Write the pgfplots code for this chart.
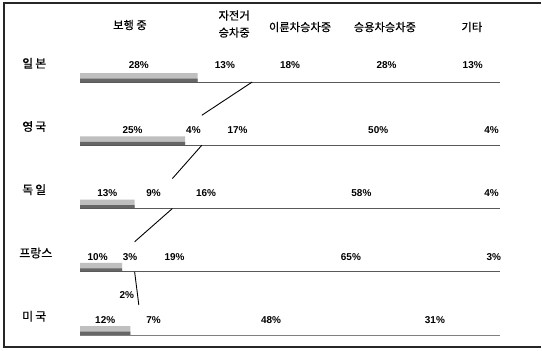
\documentclass[border=0pt]{standalone}
\usepackage{pgfplots}
\pgfplotsset{compat=1.18}
\usepackage{fontspec}
\setmainfont{Liberation Sans}
\newfontfamily\kr[FakeBold=0.6]{Noto Sans CJK KR}

\pgfplotsset{
  common/.style={
    width=537bp, height=344bp, scale only axis,
    xmin=-18.1, xmax=109.76, ymin=-1.012, ymax=4.427, y dir=reverse,
    axis lines=none, clip=false,
  }
}
\tikzset{cat/.style={anchor=west, inner sep=0pt, font=\kr\fontsize{12}{13}\selectfont},
  hdr/.style={font=\kr\fontsize{11.3}{12}\selectfont},
  pct/.style={font=\bfseries\fontsize{10}{11}\selectfont}}

\begin{document}
\begin{tikzpicture}
% ---------- bars ----------
\begin{axis}[common, xbar stacked, bar width=0.474]
\addplot[draw=none, fill=white] coordinates {(28,0) (25,1) (13,2) (10,3) (12,4)};
\addplot[draw=none, fill=white] coordinates {(13,0) (4,1) (9,2) (3,3) (2,4)};
\addplot[draw=none, fill=white] coordinates {(18,0) (17,1) (16,2) (19,3) (7,4)};
\addplot[draw=none, fill=white] coordinates {(28,0) (50,1) (58,2) (65,3) (48,4)};
\addplot[draw=none, fill=white] coordinates {(13,0) (4,1) (4,2) (3,3) (31,4)};
\end{axis}
% ---------- shading, lines, labels, frame ----------
\begin{axis}[common]
% grey band at the bottom of the pedestrian segment
\addplot[xbar, bar width=0.14, bar shift=0.167, draw=none, fill=black!25]
  coordinates {(28,0) (25,1) (13,2) (10,3) (12,4)};
\addplot[xbar, bar width=0.055, bar shift=0.21, draw=none, fill=black!60]
  coordinates {(28,0) (25,1) (13,2) (10,3) (12,4)};
% bottom edges of the bars
\addplot[black!65, line width=0.7pt] coordinates {(0,0.237) (100,0.237)};
\addplot[black!65, line width=0.7pt] coordinates {(0,1.237) (100,1.237)};
\addplot[black!65, line width=0.7pt] coordinates {(0,2.237) (100,2.237)};
\addplot[black!65, line width=0.7pt] coordinates {(0,3.237) (100,3.237)};
\addplot[black!50, line width=0.6pt] coordinates {(0,4.237) (100,4.237)};
% series lines (pedestrian + bicycle cumulative share)
\addplot[black, line width=0.9pt] coordinates {(41,0.237) (29,0.763)};
\addplot[black, line width=0.9pt] coordinates {(29,1.237) (22,1.763)};
\addplot[black, line width=0.9pt] coordinates {(22,2.237) (13,2.763)};
\addplot[black, line width=0.9pt] coordinates {(13,3.237) (14,3.763)};
% value labels
\addplot[draw=none, mark=none, point meta=explicit symbolic,
  nodes near coords={\pgfplotspointmeta\%},
  every node near coord/.style={anchor=center, inner sep=0pt, pct}]
  table[meta=m] {
x y m
14 -0.03 28
34.5 -0.03 13
50 -0.03 18
73 -0.03 28
93.5 -0.03 13
12.5 1 25
27 1 4
37.5 1 17
71 1 50
98 1 4
6.5 2 13
17.5 2 9
30 2 16
67 2 58
98 2 4
4.2 3 10
11.9 3 3
22.5 3 19
64.5 3 65
98.5 3 3
6 4 12
17.5 4 7
45.5 4 48
84.5 4 31
};
\node[anchor=east, inner sep=0pt, pct] at (axis cs:12.9,3.6) {2\%};
% category names
\node[cat] at (axis cs:-13.8,-0.06) {일\,본};
\node[cat] at (axis cs:-13.8,0.94) {영\,국};
\node[cat] at (axis cs:-13.8,1.94) {독\,일};
\node[cat] at (axis cs:-14.5,2.94) {프랑스};
\node[cat] at (axis cs:-13.8,3.94) {미\,국};
% column headers
\node[hdr] at (axis cs:11.9,-0.664) {보행 중};
\node[hdr, font=\kr\fontsize{11.3}{17}\selectfont, align=center] at (axis cs:36.7,-0.68) {자전거\\승차중};
\node[hdr] at (axis cs:52.4,-0.632) {이륜차승차중};
\node[hdr] at (axis cs:72.6,-0.632) {승용차승차중};
\node[hdr] at (axis cs:93.3,-0.632) {기타};
% frame (left, top, bottom)
\draw[line width=1.1pt, black!85] (rel axis cs:1,0) -- (rel axis cs:0,0)
  -- (rel axis cs:0,1) -- (rel axis cs:1,1);
\end{axis}
\path (current axis.south west) ++(-4bp,-4bp);
\path (current axis.north east) ++(1bp,3bp);
\end{tikzpicture}
\end{document}
